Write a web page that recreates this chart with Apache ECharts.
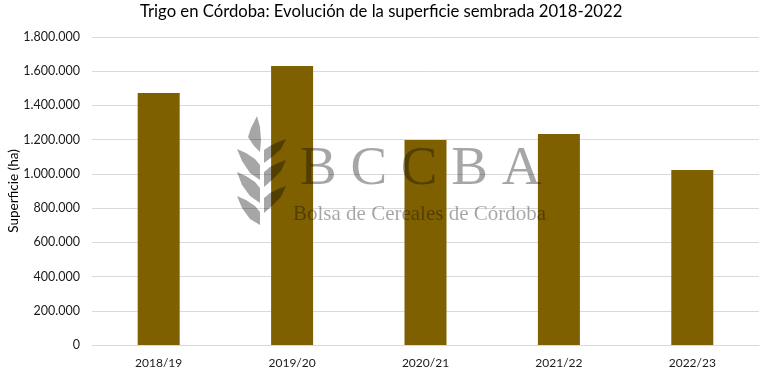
<!DOCTYPE html>
<html>
<head>
<meta charset="utf-8">
<style>
html,body{margin:0;padding:0;background:#fff}
#chart{width:767px;height:376px}
</style>
<script src="https://cdn.jsdelivr.net/npm/echarts@6/dist/echarts.min.js"></script>
</head>
<body>
<div id="chart"></div>
<script>
var campanias = ['2018/19','2019/20','2020/21','2021/22','2022/23'];
var superficie = [1473000,1630000,1198000,1233000,1023000];

//logo de la bolsa, va encima de las barras
var hojas = [
    [[257,116],[260,127],[261,140],[260,152],[254,146],[248,137],[251,128]],
    [[286,139],[281,149],[272,157],[264,163],[264,150],[270,146],[278,142]],
    [[286,160],[281,171],[272,180],[264,187],[264,172],[270,167],[278,163]],
    [[286,186],[281,197],[272,206],[264,213],[264,198],[270,193],[278,189]],
    [[237,149],[246,153],[255,159],[260,165],[260,180],[250,173],[242,161]],
    [[237,172],[246,176],[255,182],[260,188],[260,203],[250,196],[242,185]],
    [[237,196],[246,200],[255,206],[260,212],[260,225],[250,219],[242,208]]
];
var colorLogo = 'rgba(0,0,0,0.35)';
var logo = hojas.map(function(p){
    return {type:'polygon', z:100, shape:{points:p}, style:{fill:colorLogo}};
});
logo.push({type:'text', z:100, left:300, top:142, style:{
    text:'B C C B A', fill:colorLogo, font:'55px "Liberation Serif"'
}});
logo.push({type:'text', z:100, left:293, top:204, style:{
    text:'Bolsa de Cereales de Córdoba', fill:colorLogo, font:'21px "Liberation Serif"'
}});

var chart = echarts.init(document.getElementById('chart'));
chart.setOption({
    animation:false,
    backgroundColor:'#fff',
    textStyle:{fontFamily:'Lato'},
    title:{
        text:'Trigo en Córdoba: Evolución de la superficie sembrada 2018-2022',
        left:135, top:-2,
        textStyle:{fontFamily:'Lato', fontSize:16.7, fontWeight:'normal', color:'#000'}
    },
    grid:{left:92, right:8, top:37, bottom:31, outerBoundsMode:'none'},
    xAxis:{
        type:'category',
        data:campanias,
        axisTick:{show:false},
        axisLine:{lineStyle:{color:'#d9d9d9', width:1}},
        axisLabel:{color:'#1a1a1a', fontSize:12, margin:12, fontFamily:'Lato'}
    },
    yAxis:{
        type:'value',
        min:0, max:1800000, interval:200000,
        name:'Superficie (ha)',
        nameLocation:'middle',
        nameGap:71,
        nameMoveOverlap:false,
        nameTextStyle:{color:'#000', fontSize:13.5, fontFamily:'Lato'},
        axisLine:{show:false},
        axisTick:{show:false},
        splitLine:{lineStyle:{color:'#d9d9d9', width:1}},
        axisLabel:{
            color:'#1a1a1a', fontSize:12.5, margin:12, fontFamily:'Lato',
            formatter:function(v){ return String(v).replace(/\B(?=(\d{3})+$)/g,'.'); }
        }
    },
    series:[{
        type:'bar',
        data:superficie,
        barWidth:42,
        itemStyle:{color:'#7f6000'}
    }],
    graphic:logo
});
</script>
</body>
</html>
